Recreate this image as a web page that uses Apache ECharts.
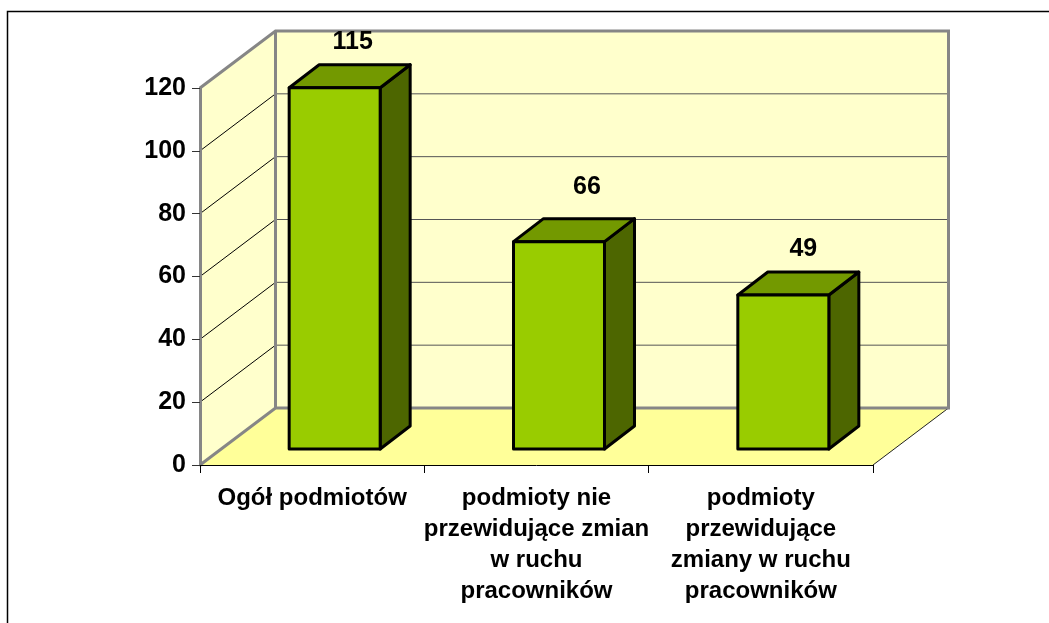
<!DOCTYPE html>
<html>
<head>
<meta charset="utf-8">
<style>html,body{margin:0;padding:0;background:#fff}#c{width:1049px;height:623px}</style>
<script src="https://cdn.jsdelivr.net/npm/echarts@6/dist/echarts.min.js"></script>
</head>
<body>
<div id="c"></div>
<script>
const categories = ['Ogół podmiotów', 'podmioty nie\nprzewidujące zmian\nw ruchu\npracowników', 'podmioty\nprzewidujące\nzmiany w ruchu\npracowników'];
const values = [115, 66, 49];
const yTicks = [0, 20, 40, 60, 80, 100, 120];

const FONT = '"Liberation Sans", Arial, sans-serif';
const WALL_DX = 75.5, WALL_DY = -57;      // depth of the 3D box
const BAR_OFF_X = 22.5, BAR_OFF_Y = -16; // bars stand inside the floor
const BAR_W = 91, BAR_DX = 30, BAR_DY = -23;
const LABEL_NUDGE = [[-5, 1], [5, -8], [-3, 1]];

const chart = echarts.init(document.getElementById('c'), null, {renderer: 'canvas'});

function line(x1, y1, x2, y2, stroke, width) {
  return {type: 'line', shape: {x1, y1, x2, y2}, style: {stroke, lineWidth: width}, silent: true};
}
function poly(points, fill) {
  return {type: 'polygon', shape: {points}, style: {fill}, silent: true};
}

function renderBox(params, api) {
  const cs = params.coordSys;
  const L = cs.x, R = cs.x + cs.width, T = cs.y, B = cs.y + cs.height;
  const dx = WALL_DX, dy = WALL_DY;
  const kids = [
    poly([[L + dx, T + dy], [R + dx, T + dy], [R + dx, B + dy], [L + dx, B + dy]], '#FFFFCC'),
    poly([[L, T], [L + dx, T + dy], [L + dx, B + dy], [L, B]], '#FFFFCC'),
    poly([[L, B], [L + dx, B + dy], [R + dx, B + dy], [R, B]], '#FFFF99')
  ];
  yTicks.forEach(function (t) {
    if (t === 0 || t === 120) return;
    const y = api.coord([0, t])[1];
    kids.push(line(L, y, L + dx, y + dy, '#000', 1));
    kids.push(line(L + dx, y + dy, R + dx, y + dy, '#555', 1));
  });
  kids.push(line(R, B, R + dx, B + dy, '#222', 1));
  kids.push({type: 'polyline', shape: {points: [[L, T], [L + dx, T + dy], [R + dx, T + dy], [R + dx, B + dy], [L + dx, B + dy], [L, B]]},
    style: {stroke: '#868686', lineWidth: 3, fill: null}, silent: true});
  kids.push(line(L + dx, T + dy, L + dx, B + dy, '#868686', 3));
  return {type: 'group', children: kids};
}

function renderBar(params, api) {
  const idx = api.value(0), v = api.value(1);
  const top = api.coord([idx, v]), base = api.coord([idx, 0]);
  const x0 = top[0] + BAR_OFF_X - BAR_W / 2, x1 = x0 + BAR_W;
  const y0 = top[1] + BAR_OFF_Y, y1 = base[1] + BAR_OFF_Y;
  const edge = {stroke: '#000', lineWidth: 3, lineJoin: 'round'};
  const nudge = LABEL_NUDGE[idx];
  return {type: 'group', children: [
    {type: 'polygon', shape: {points: [[x1, y0], [x1 + BAR_DX, y0 + BAR_DY], [x1 + BAR_DX, y1 + BAR_DY], [x1, y1]]}, style: Object.assign({fill: '#4D6600'}, edge)},
    {type: 'polygon', shape: {points: [[x0, y0], [x0 + BAR_DX, y0 + BAR_DY], [x1 + BAR_DX, y0 + BAR_DY], [x1, y0]]}, style: Object.assign({fill: '#739900'}, edge)},
    {type: 'rect', shape: {x: x0, y: y0, width: BAR_W, height: y1 - y0}, style: Object.assign({fill: '#99CC00'}, edge)},
    {type: 'text', x: (x0 + x1) / 2 + 23 + nudge[0], y: y0 - 47 + nudge[1],
      style: {text: String(v), font: 'bold 25px ' + FONT, fill: '#000', align: 'center', verticalAlign: 'middle'}}
  ]};
}

chart.setOption({
  animation: false,
  backgroundColor: '#fff',
  grid: {left: 200, right: 176, top: 88, bottom: 158, containLabel: false},
  graphic: [{type: 'rect', z: 100, silent: true, shape: {x: 7.5, y: 11.5, width: 1100, height: 700},
    style: {fill: null, stroke: '#000', lineWidth: 1.5}}],
  xAxis: {
    type: 'category', data: categories, z: 10,
    axisLine: {lineStyle: {color: '#000', width: 1}},
    axisTick: {show: true, alignWithLabel: false, length: 8, lineStyle: {color: '#000', width: 1}},
    axisLabel: {interval: 0, margin: 18, color: '#000', fontFamily: FONT, fontWeight: 'bold', fontSize: 24, lineHeight: 31, align: 'center'}
  },
  yAxis: {
    type: 'value', min: 0, max: 120, interval: 20, z: 10,
    splitLine: {show: false},
    axisLine: {show: true, lineStyle: {color: '#868686', width: 3}},
    axisTick: {show: true, length: 8, lineStyle: {color: '#333', width: 1}},
    axisLabel: {margin: 14, padding: [3, 0, 0, 0], color: '#000', fontFamily: FONT, fontWeight: 'bold', fontSize: 25}
  },
  series: [
    {type: 'custom', z: 1, silent: true, renderItem: renderBox, data: [[0, 0]]},
    {type: 'custom', z: 2, silent: true, renderItem: renderBar, clip: false,
      data: values.map(function (v, i) { return [i, v]; }), encode: {x: 0, y: 1}}
  ]
});
</script>
</body>
</html>
